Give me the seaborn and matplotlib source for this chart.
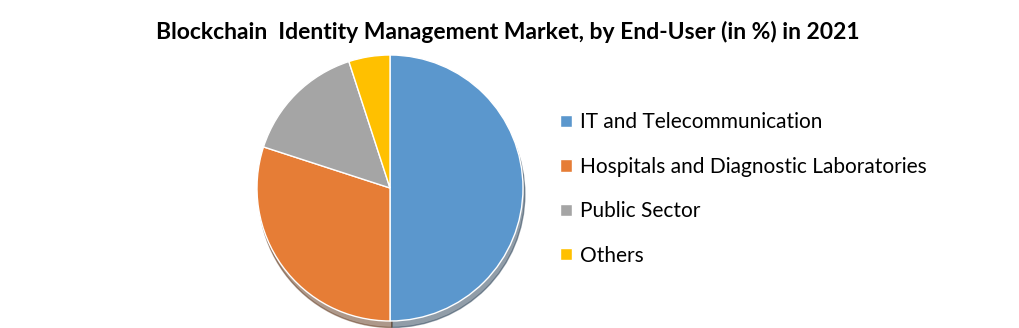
import matplotlib
matplotlib.use("Agg")
import matplotlib.pyplot as plt
import seaborn as sns

categories = ["IT and Telecommunication", "Hospitals and Diagnostic Laboratories", "Public Sector", "Others"]
shares = [50, 30, 15, 5]
colors = ["#5B97CD", "#E67D36", "#A5A5A5", "#FFC000"]
title = "Blockchain  Identity Management Market, by End-User (in %) in 2021"

sns.set_theme(style="white")
plt.rcParams['font.family'] = ['Lato', 'DejaVu Sans']
plt.rcParams['text.color'] = 'black'

fig = plt.figure(figsize=(10.19, 3.28), dpi=100)
cx, cy, r = 390, 328 - 188, 133
ax = fig.add_axes([(cx - r) / 1019, (cy - r) / 328, 2 * r / 1019, 2 * r / 328])

wedges, _ = ax.pie(shares, colors=sns.color_palette(colors), startangle=90, counterclock=False,
                   radius=1.0, wedgeprops=dict(edgecolor="white", linewidth=1.0),
                   shadow=dict(ox=0.01, oy=-0.035, shade=0.6))
ax.set_xlim(-1, 1)
ax.set_ylim(-1, 1)
ax.set_aspect("equal")
ax.axis("off")

fig.text(508 / 1019, 1 - 32 / 328, title, ha="center", va="center", fontsize=16.5,
         fontweight="bold", color="black")

fig.legend(wedges, categories, loc="center left", bbox_to_anchor=(552 / 1019, 1 - 189 / 328),
           frameon=False, fontsize=15.0, handlelength=0.55, handleheight=0.55, handletextpad=0.4,
           labelspacing=1.17, borderaxespad=0, labelcolor="black")

fig.savefig("out.png", dpi=100)
